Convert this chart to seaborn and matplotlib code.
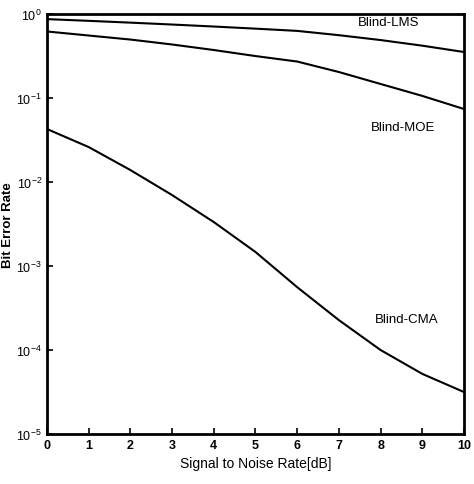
import numpy as np
import pandas as pd
import matplotlib
matplotlib.use("Agg")
import matplotlib.pyplot as plt
import seaborn as sns
from matplotlib.ticker import FixedLocator, NullLocator

snr_db = [0, 1, 2, 3, 4, 5, 6, 7, 8, 9, 10]
ber_lms = [0.87, 0.83, 0.79, 0.75, 0.71, 0.67, 0.63, 0.56, 0.49, 0.42, 0.353]
ber_moe = [0.62, 0.555, 0.497, 0.434, 0.373, 0.316, 0.272, 0.204, 0.147, 0.106, 0.074]
ber_cma = [4.28e-2, 2.61e-2, 1.39e-2, 7.0e-3, 3.34e-3, 1.47e-3, 5.6e-4, 2.27e-4, 1.0e-4, 5.2e-5, 3.16e-5]
series_names = ["Blind-LMS", "Blind-MOE", "Blind-CMA"]
x_ticks = list(range(11))
y_ticks = [1e-5, 1e-4, 1e-3, 1e-2, 1e-1, 1e0]
y_tick_labels = [r"$10^{-5}$", r"$10^{-4}$", r"$10^{-3}$", r"$10^{-2}$", r"$10^{-1}$", r"$10^{0}$"]

df = pd.DataFrame({
    "snr": snr_db * 3,
    "ber": ber_lms + ber_moe + ber_cma,
    "series": [series_names[0]] * 11 + [series_names[1]] * 11 + [series_names[2]] * 11,
})

sns.set_theme(style="ticks")
plt.rcParams["font.family"] = ["Liberation Sans", "DejaVu Sans"]
plt.rcParams["mathtext.fontset"] = "custom"
plt.rcParams["mathtext.rm"] = "Liberation Sans"
plt.rcParams["mathtext.it"] = "Liberation Sans"

fig = plt.figure(figsize=(4.74, 4.85), dpi=100)
ax = fig.add_axes([0.099, 0.103, 0.880, 0.866])

sns.lineplot(data=df, x="snr", y="ber", hue="series",
             palette=["black", "black", "black"], linewidth=1.5,
             legend=False, ax=ax)

ax.set_yscale("log")
ax.set_xlim(0, 10)
ax.set_ylim(1e-5, 1e0)
ax.xaxis.set_major_locator(FixedLocator(x_ticks))
ax.set_xticklabels([str(t) for t in x_ticks])
ax.yaxis.set_major_locator(FixedLocator(y_ticks))
ax.yaxis.set_minor_locator(NullLocator())
ax.set_yticklabels(y_tick_labels)
ax.tick_params(direction="in", length=4, width=1.2, labelsize=9, colors="black")
for lbl in ax.get_xticklabels() + ax.get_yticklabels():
    lbl.set_fontweight("bold")
for s in ax.spines.values():
    s.set_visible(True)
    s.set_linewidth(2)
    s.set_color("black")

ax.set_xlabel("Signal to Noise Rate[dB]", fontsize=10, color="black", labelpad=4)
ax.set_ylabel("Bit Error Rate", fontsize=9.5, color="black", fontweight="bold", labelpad=2)

ax.text(8.2, 0.80, "Blind-LMS", fontsize=9.5, ha="center", va="center", color="black")
ax.text(8.54, 0.045, "Blind-MOE", fontsize=9.5, ha="center", va="center", color="black")
ax.text(8.63, 2.34e-4, "Blind-CMA", fontsize=9.5, ha="center", va="center", color="black")

fig.savefig("out.png", dpi=100)
